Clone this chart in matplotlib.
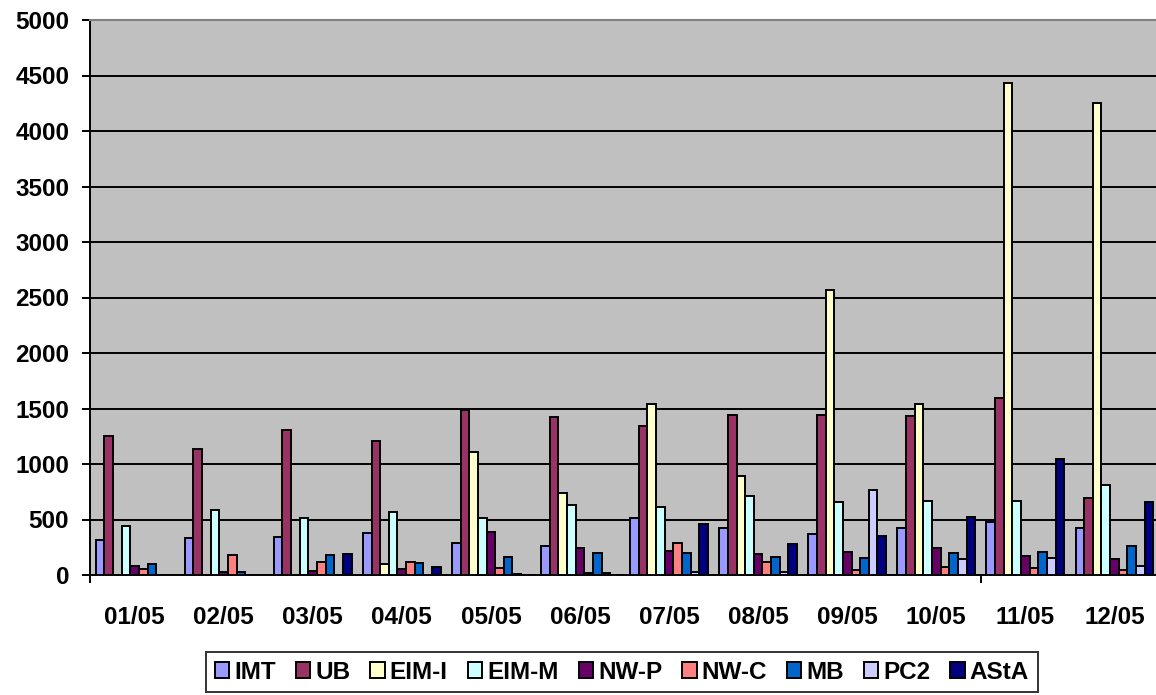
import numpy as np
import matplotlib
matplotlib.use('Agg')
import matplotlib.pyplot as plt

plt.rcParams['font.family'] = ['Liberation Sans', 'DejaVu Sans']
plt.rcParams['font.weight'] = 'bold'

months = ['01/05', '02/05', '03/05', '04/05', '05/05', '06/05',
          '07/05', '08/05', '09/05', '10/05', '11/05', '12/05']
names = ['IMT', 'UB', 'EIM-I', 'EIM-M', 'NW-P', 'NW-C', 'MB', 'PC2', 'AStA']

IMT = [315, 333, 340, 375, 288, 264, 516, 426, 369, 426, 477, 420]
UB = [1252, 1138, 1309, 1210, 1486, 1423, 1339, 1441, 1441, 1435, 1597, 694]
EIM_I = [0, 0, 0, 99, 1105, 739, 1538, 889, 2568, 1543, 4435, 4255]
EIM_M = [444, 583, 516, 568, 516, 628, 613, 714, 658, 667, 667, 814]
NW_P = [81, 24, 39, 54, 387, 240, 216, 186, 204, 240, 171, 147]
NW_C = [57, 180, 120, 117, 63, 21, 288, 117, 45, 69, 63, 42]
MB = [102, 24, 180, 105, 165, 201, 198, 162, 156, 201, 210, 264]
PC2 = [0, 0, 0, 0, 12, 20, 24, 27, 766, 144, 156, 81]
AStA = [0, 0, 186, 69, 0, 0, 462, 276, 354, 520, 1045, 655]

series = [IMT, UB, EIM_I, EIM_M, NW_P, NW_C, MB, PC2, AStA]
colors = ['#9999FF', '#993366', '#FFFFCC', '#CCFFFF', '#660066',
          '#FF8080', '#0066CC', '#CCCCFF', '#000080']

fig = plt.figure(figsize=(11.56, 6.95), dpi=100)
ax = fig.add_axes([90/1156, 1-575/695, 1069/1156, 555/695])
ax.set_facecolor('#C0C0C0')

x = np.arange(len(months))
w = 0.097
handles = []
for i, (vals, c, n) in enumerate(zip(series, colors, names)):
    off = (i - 4) * w
    b = ax.bar(x + off, vals, width=w, color=c, edgecolor='black',
               linewidth=1.4, label=n, zorder=3)
    handles.append(b)

ax.set_xlim(-0.5, 11.5)
ax.set_ylim(0, 5000)
ax.set_yticks(np.arange(0, 5001, 500))
ax.yaxis.grid(True, color='black', linewidth=1.4, zorder=1)
ax.set_axisbelow(True)

ax.set_xticks(x)
ax.set_xticklabels(months, fontsize=17.5, fontweight='bold')
ax.tick_params(axis='x', length=0, pad=22)
# category ticks only every 10 categories
ax.set_xticks([-0.5, 9.5], minor=True)
ax.tick_params(axis='x', which='minor', length=6, width=1.4, direction='out')
ax.tick_params(axis='y', length=6, width=1.4, pad=9, labelsize=17.5)
for lab in ax.get_yticklabels():
    lab.set_fontweight('bold')

ax.spines['left'].set_linewidth(1.4)
ax.spines['bottom'].set_linewidth(1.4)
ax.spines['top'].set_color('#808080')
ax.spines['top'].set_linewidth(1.5)
ax.spines['right'].set_visible(False)

leg = fig.legend(handles=handles, labels=names, loc='upper center', ncol=9,
                 bbox_to_anchor=(622/1156, 1-652/695), bbox_transform=fig.transFigure,
                 borderaxespad=0, frameon=True, fancybox=False, edgecolor='black',
                 handlelength=0.6, handleheight=0.6, handletextpad=0.2,
                 columnspacing=0.82, borderpad=0.35,
                 prop={'weight': 'bold', 'size': 17.5})
leg.get_frame().set_linewidth(1.4)

fig.savefig('out.png', dpi=100)
